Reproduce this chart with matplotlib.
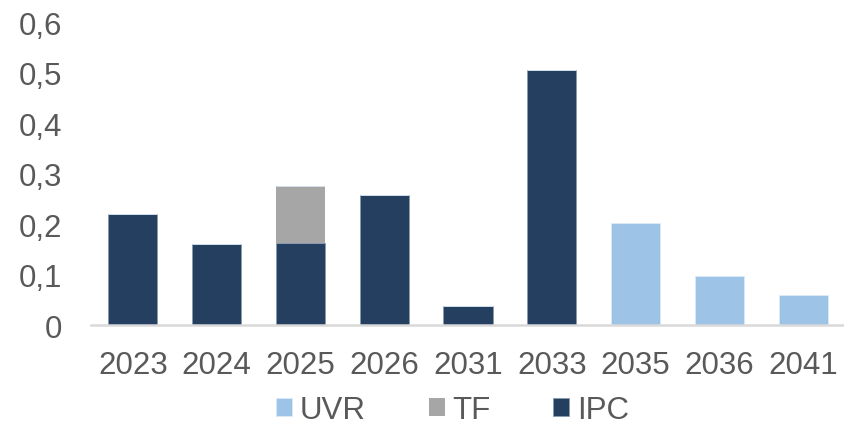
import matplotlib
matplotlib.use("Agg")
import matplotlib.pyplot as plt
import numpy as np
from matplotlib.ticker import FuncFormatter

categories = ["2023", "2024", "2025", "2026", "2031", "2033", "2035", "2036", "2041"]
ipc = [0.22, 0.16, 0.162, 0.258, 0.038, 0.505, 0.0, 0.0, 0.0]
tf = [0.0, 0.0, 0.113, 0.0, 0.0, 0.0, 0.0, 0.0, 0.0]
uvr = [0.0, 0.0, 0.0, 0.0, 0.0, 0.0, 0.203, 0.098, 0.059]
y_ticks = [0, 0.1, 0.2, 0.3, 0.4, 0.5, 0.6]

c_ipc = "#243F60"
c_tf = "#A6A6A6"
c_uvr = "#9DC3E6"
txt = "#595959"

plt.rcParams['font.family'] = ['Liberation Sans', 'DejaVu Sans']
fs = 22.5

fig = plt.figure(figsize=(8.45, 4.27), dpi=100)
ax = fig.add_axes([0.1077, 0.2365, 0.8923, 0.946 - 0.2365])

x = np.arange(len(categories))
w = 0.585
ipc_a = np.array(ipc)
tf_a = np.array(tf)
uvr_a = np.array(uvr)
b_ipc = ax.bar(x, ipc_a, w, color=c_ipc, edgecolor="#8A9AB0", linewidth=0.6, label="IPC")
b_tf = ax.bar(x, tf_a, w, bottom=ipc_a, color=c_tf, edgecolor="none", label="TF")
b_uvr = ax.bar(x, uvr_a, w, bottom=ipc_a + tf_a, color=c_uvr, edgecolor="#DCEAF7", linewidth=0.6, label="UVR")

ax.set_xlim(-0.5, len(categories) - 0.5)
ax.set_ylim(0, 0.6)
ax.set_yticks(y_ticks)
ax.yaxis.set_major_formatter(FuncFormatter(lambda v, p: ("%g" % round(v, 1)).replace(".", ",")))
ax.set_xticks(x)
ax.set_xticklabels(categories)

for s in ["top", "right", "left"]:
    ax.spines[s].set_visible(False)
ax.spines["bottom"].set_color("#D9D9D9")
ax.spines["bottom"].set_linewidth(1.8)
ax.tick_params(axis="both", length=0, labelsize=fs, colors=txt)
ax.tick_params(axis="y", pad=21)
ax.tick_params(axis="x", pad=18)

handles = [b_uvr, b_tf, b_ipc]
leg = fig.legend(handles, ["UVR", "TF", "IPC"], loc="center left", bbox_to_anchor=(276 / 845, 1 - 411 / 427),
                 ncol=3, frameon=False, fontsize=fs, handlelength=0.51, handleheight=0.51,
                 handletextpad=0.26, columnspacing=2.0, labelcolor=txt, borderpad=0, borderaxespad=0)

fig.savefig("out.png", dpi=100)
